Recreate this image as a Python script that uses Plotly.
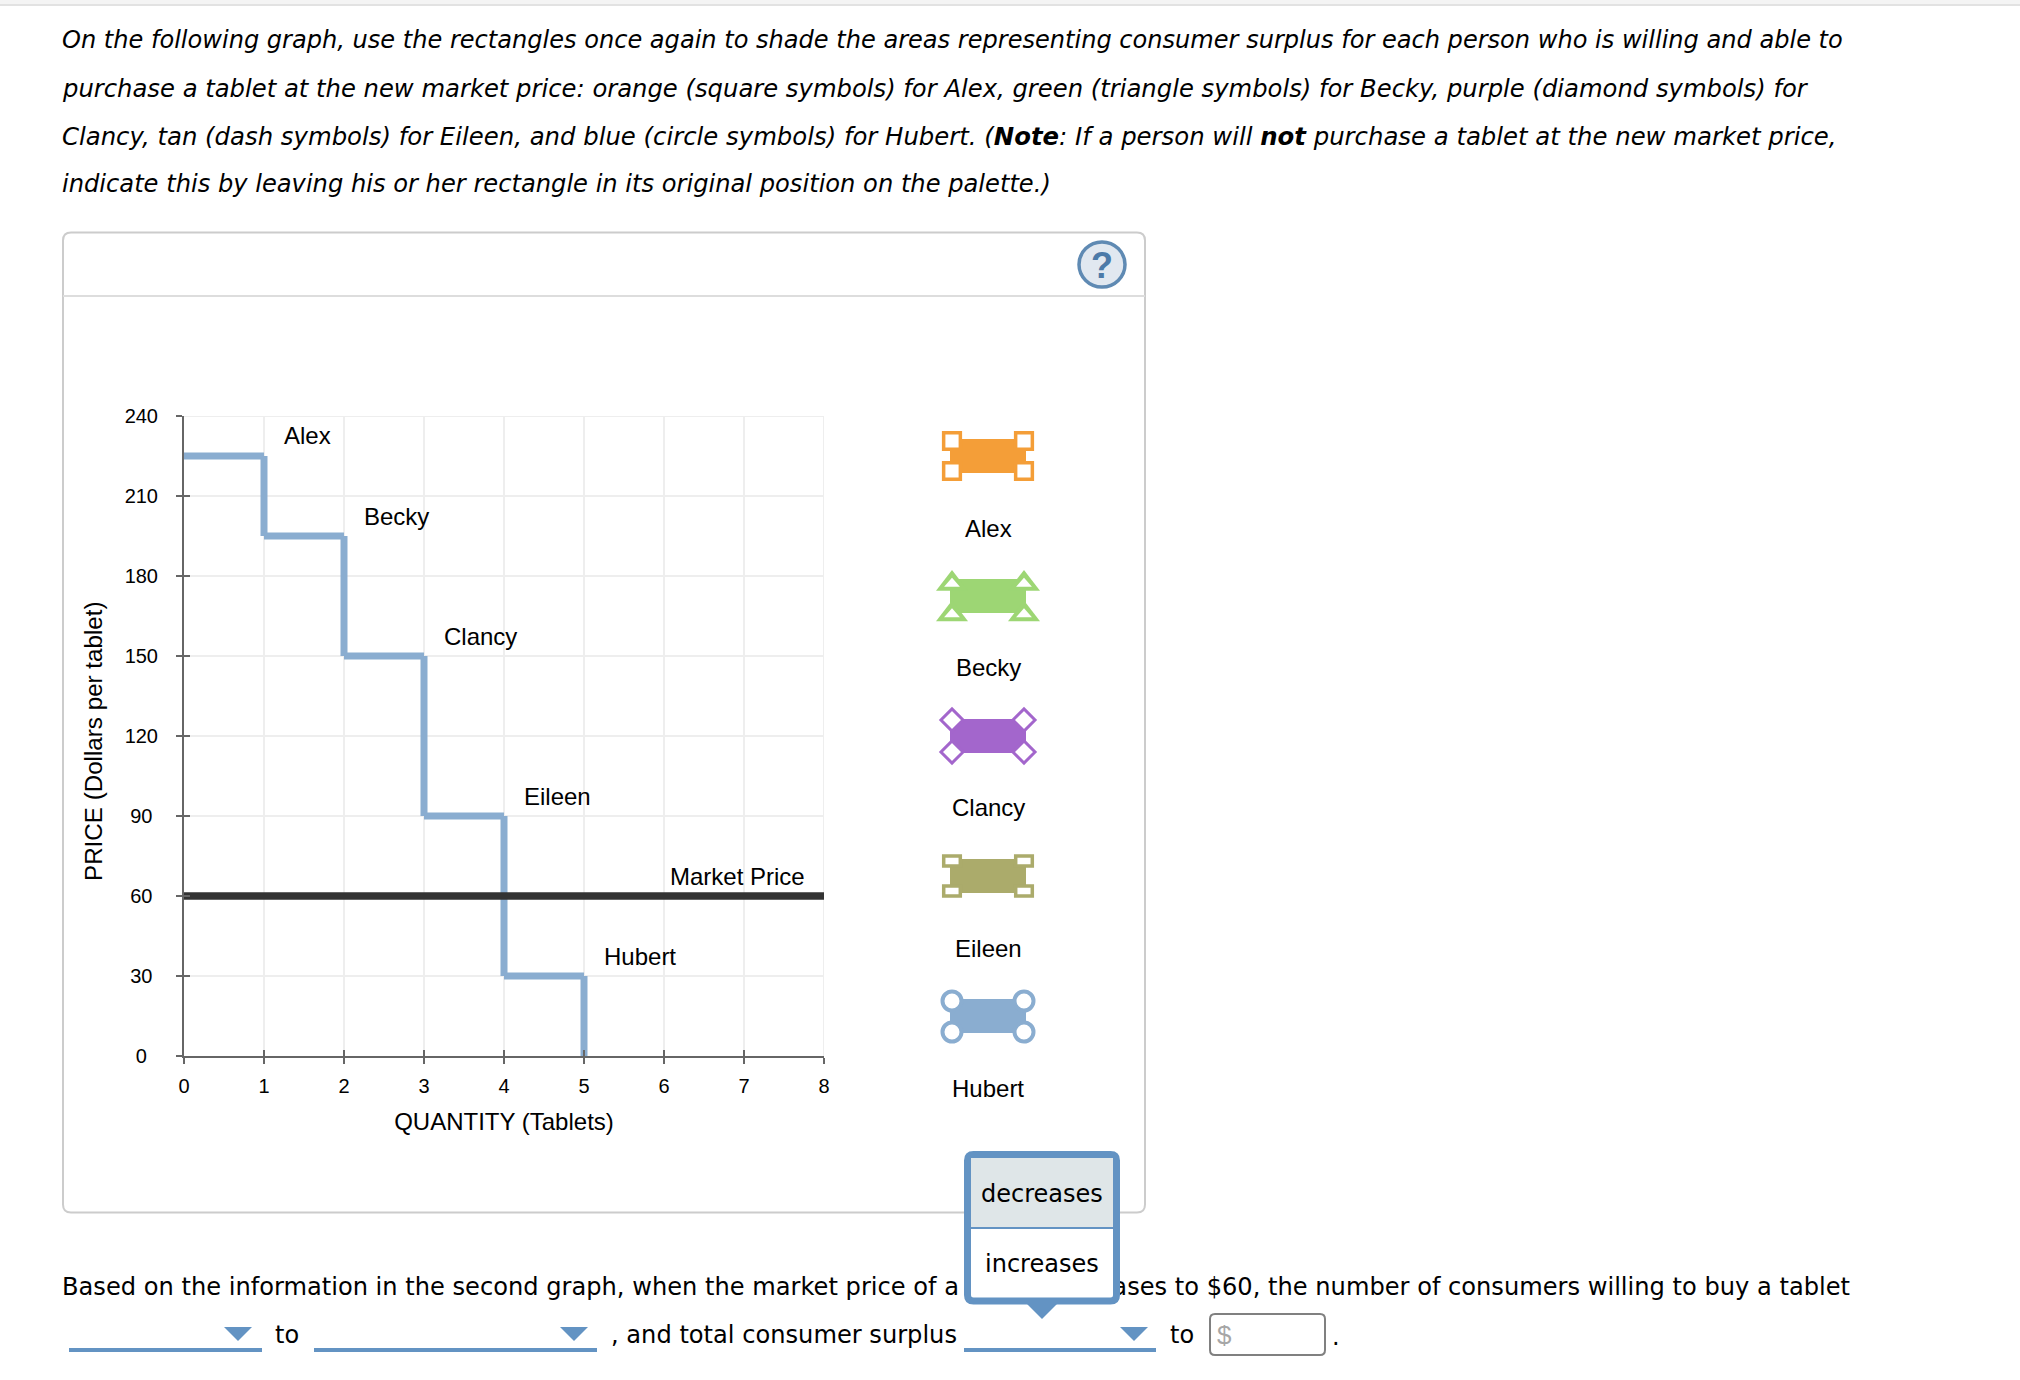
import plotly.graph_objects as go

NB = "\u00a0"
W, H = 2020, 1380
# ---- chart data
consumers = ["Alex", "Becky", "Clancy", "Eileen", "Hubert"]
quantities = [1, 2, 3, 4, 5]
prices = [225, 195, 150, 90, 30]
market_price = 60
x_ticks = [0, 1, 2, 3, 4, 5, 6, 7, 8]
y_ticks = [0, 30, 60, 90, 120, 150, 180, 210, 240]
x_title = "QUANTITY (Tablets)"
y_title = "PRICE (Dollars per tablet)"
# ---- page text
para_lines = [
    "On the following graph, use the rectangles once again to shade the areas representing consumer surplus for each person who is willing and able to",
    "purchase a tablet at the new market price: orange (square symbols) for Alex, green (triangle symbols) for Becky, purple (diamond symbols) for",
    "Clancy, tan (dash symbols) for Eileen, and blue (circle symbols) for Hubert. (<b>Note</b>: If a person will <b>not</b> purchase a tablet at the new market price,",
    "indicate this by leaving his or her rectangle in its original position on the palette.)",
]
para_sizes = [24.07, 24.27, 24.35, 24.16]
question_left = "Based on the information in the second graph, when the market price of a"
question_right = "ases to $60, the number of consumers willing to buy a tablet"
options = ["decreases", "increases"]

BLUE = "#8AADD0"
DD = "#6393C3"
palette_colors = ["#F49E38", "#9DD674", "#A366CC", "#ABAB6B", "#8AADD0"]
BODY = "DejaVu Sans"
SANS = "Liberation Sans"
BODY_SIZE = 24
CH = 24

fig = go.Figure()

# full-page pixel axes (first subplot) used for page furniture
PIX = dict(xref="x", yref="y")
PIXT = dict(xaxis="x", yaxis="y")

def rect(x0, y0, x1, y1, fill=None, line=None, lw=0, layer="below", radius=None):
    if radius:
        r = radius
        path = (f"M{x0+r},{y0} L{x1-r},{y0} Q{x1},{y0} {x1},{y0+r} L{x1},{y1-r} Q{x1},{y1} {x1-r},{y1} "
                f"L{x0+r},{y1} Q{x0},{y1} {x0},{y1-r} L{x0},{y0+r} Q{x0},{y0} {x0+r},{y0} Z")
        fig.add_shape(type="path", path=path, fillcolor=fill or "rgba(0,0,0,0)",
                      line=dict(color=line or "rgba(0,0,0,0)", width=lw), layer=layer, **PIX)
    else:
        fig.add_shape(type="rect", x0=x0, y0=y0, x1=x1, y1=y1, fillcolor=fill or "rgba(0,0,0,0)",
                      line=dict(color=line or "rgba(0,0,0,0)", width=lw), layer=layer, **PIX)

def txt(x, y, s, size=BODY_SIZE, fam=BODY, color="#000", anchor="left", style="normal"):
    fig.add_annotation(x=x, y=y, text=s, showarrow=False, xanchor=anchor, yanchor="middle",
                       font=dict(family=fam, size=size, color=color, style=style), align="left", **PIX)

def tri(cx, apex, base, half, col):
    fig.add_shape(type="path", path=f"M{cx-half},{base} L{cx+half},{base} L{cx},{apex} Z", fillcolor=col,
                  line=dict(width=0), layer="below", **PIX)

# invisible trace to keep the pixel subplot alive
fig.add_trace(go.Scatter(x=[0, W], y=[0, H], mode="markers", marker=dict(opacity=0), hoverinfo="skip", showlegend=False, **PIXT))

# top strip
rect(0, 0, W, 4, fill="#F4F4F4")
rect(0, 4, W, 6, fill="#E2E2E2")
# panel
rect(63, 232.5, 1145, 1212.5, line="#CCCCCC", lw=2, radius=8)
fig.add_shape(type="line", x0=63, x1=1145, y0=296, y1=296, line=dict(color="#DDDDDD", width=2), layer="below", **PIX)
# help icon
fig.add_shape(type="circle", x0=1079, x1=1125, y0=242, y1=287, fillcolor="#E1E8F0", line=dict(color="#5F8AB3", width=3.5), layer="below", **PIX)
txt(1102, 265, "<b>?</b>", size=36, fam=SANS, color="#4C7AA8", anchor="center")

# paragraph
for i, (line, size) in enumerate(zip(para_lines, para_sizes)):
    txt(60, 40.3 + 48 * i, line, size=size, style="italic")

# question line: text traces so the open dropdown can cover the clipped word
fig.add_trace(go.Scatter(x=[62], y=[1288.5], mode="text", text=[question_left], textposition="middle right",
                         textfont=dict(family=BODY, size=24.14, color="#000"), hoverinfo="skip", showlegend=False, **PIXT))
fig.add_trace(go.Scatter(x=[1850], y=[1288.5], mode="text", text=[question_right], textposition="middle left",
                         textfont=dict(family=BODY, size=24.14, color="#000"), hoverinfo="skip", showlegend=False, **PIXT))

# second line furniture
for (x0, x1, ax) in [(69, 262, 224), (314, 597, 560), (964, 1156, 1120)]:
    rect(x0, 1348, x1, 1352, fill=DD)
    fig.add_shape(type="path", path=f"M{ax},1327 L{ax+28},1327 L{ax+14},1341 Z", fillcolor=DD, line=dict(width=0), layer="below", **PIX)
txt(272.5, 1335, "to")
txt(608.5, 1335, ", and total consumer surplus", size=24.14)
txt(1167.5, 1335, "to")
rect(1210, 1314, 1325, 1355, line="#808080", lw=2, radius=5)
txt(1215, 1335, "$", size=26, fam=SANS, color="#A6A6A6")
txt(1330, 1337, ".")

# palette
hx = [952, 1024]
rect_tops = [439, 579, 719, 859, 999]
for col, top in zip(palette_colors, rect_tops):
    rect(950, top, 1026, top + 34, fill=col)
for name, ly in zip(consumers, [528, 667, 807, 948, 1088]):
    txt(988, ly, name, size=CH, fam=SANS, anchor="center")

def handles(ys, symbol, size, lw, col):
    fig.add_trace(go.Scatter(x=[hx[0], hx[1], hx[0], hx[1]], y=[ys[0], ys[0], ys[1], ys[1]], mode="markers",
                             marker=dict(symbol=symbol, size=size, color="#FFFFFF", line=dict(color=col, width=lw)),
                             hoverinfo="skip", showlegend=False, **PIXT))
handles([441, 471], "square", 16.7, 3.5, palette_colors[0])
handles([720, 752], "diamond", 17, 3, palette_colors[2])
handles([1001, 1032], "circle", 19, 4, palette_colors[4])
for cx in hx:
    for dy in [0, 30.5]:
        tri(cx, 570 + dy, 590.7 + dy, 16, palette_colors[1])
        tri(cx, 577.7 + dy, 586.7 + dy, 7.9, "#FFFFFF")
    for cy in [861, 891]:
        rect(cx - 8.3, cy - 5, cx + 8.3, cy + 5, fill="#FFFFFF", line=palette_colors[3], lw=3.5)

# y-axis title, centred where the reference has it (slightly below the axis middle)
fig.add_annotation(x=93, y=741, text=y_title, textangle=-90, showarrow=False, xanchor="center", yanchor="middle",
                   font=dict(family=SANS, size=24.2, color="#000"), **PIX)

# ---- the chart itself
main = dict(xaxis="x2", yaxis="y2")
# gridlines on the far edges (plotly clips those at the range ends)
fig.add_shape(type="line", xref="x2", yref="y2", x0=x_ticks[0], x1=x_ticks[-1], y0=y_ticks[-1], y1=y_ticks[-1], line=dict(color="#EEEEEE", width=2), layer="below")
fig.add_shape(type="line", xref="x2", yref="y2", x0=x_ticks[-1], x1=x_ticks[-1], y0=y_ticks[0], y1=y_ticks[-1], line=dict(color="#EEEEEE", width=2), layer="below")
sx, sy = [], []
prev_q = 0
for i, (q, p) in enumerate(zip(quantities, prices)):
    nxt = prices[i + 1] if i + 1 < len(prices) else 0
    sx += [prev_q, q, None, q, q, None]
    sy += [p, p, None, p, nxt, None]
    prev_q = q
fig.add_trace(go.Scatter(x=sx, y=sy, mode="lines", line=dict(color=BLUE, width=7), hoverinfo="skip", showlegend=False, **main))
fig.add_trace(go.Scatter(x=[x_ticks[0], x_ticks[-1]], y=[market_price, market_price], mode="lines",
                         line=dict(color="#333333", width=7.5), hoverinfo="skip", showlegend=False, **main))
for name, q, p in zip(consumers, quantities, prices):
    fig.add_annotation(x=q + 0.23, y=p + 7.5, xref="x2", yref="y2", text=name, showarrow=False, xanchor="left", yanchor="middle",
                       font=dict(family=SANS, size=CH, color="#000"))
fig.add_annotation(x=6.05, y=market_price + 7.5, xref="x2", yref="y2", text="Market Price", showarrow=False, xanchor="left", yanchor="middle",
                   font=dict(family=SANS, size=CH, color="#000"))

# popup dropdown (above everything but text)
rect(967.5, 1154.5, 1116.5, 1301, fill="#FFFFFF", line=DD, lw=7, layer="above", radius=6)
rect(971, 1158, 1113, 1227, fill="#DFE6E8", layer="above")
rect(971, 1227, 1113, 1229, fill=DD, layer="above")
fig.add_shape(type="path", path="M1027,1304 L1057,1304 L1042,1319 Z", fillcolor=DD, line=dict(width=0), layer="above", **PIX)
txt(1042, 1194, options[0], anchor="center")
txt(1042, 1263.5, options[1], anchor="center")

fig.update_layout(
    width=W, height=H, margin=dict(l=0, r=0, t=0, b=0, autoexpand=False), paper_bgcolor="#FFFFFF", plot_bgcolor="rgba(0,0,0,0)",
    showlegend=False,
    xaxis=dict(domain=[0, 1], range=[0, W], visible=False, fixedrange=True),
    yaxis=dict(domain=[0, 1], range=[H, 0], visible=False, fixedrange=True),
    xaxis2=dict(domain=[184 / W, 824 / W], range=[0, 8], anchor="y2", tickmode="array", tickvals=x_ticks, ticktext=[str(v) for v in x_ticks],
                ticks="outside", ticklen=6, tickwidth=2, tickcolor="#666666", showline=True, linecolor="#666666", linewidth=2,
                showgrid=True, gridcolor="#EEEEEE", gridwidth=2, zeroline=False, tickfont=dict(family=SANS, size=20, color="#000"),
                ticklabelstandoff=5, title=dict(text=x_title, font=dict(family=SANS, size=CH, color="#000"), standoff=17)),
    yaxis2=dict(domain=[1 - 1056 / H, 1 - 416 / H], range=[0, 240], anchor="x2", tickmode="array", tickvals=y_ticks,
                ticktext=[str(v) + NB * (3 - len(str(v))) for v in y_ticks],
                ticks="outside", ticklen=6, tickwidth=2, tickcolor="#666666", showline=True, linecolor="#666666", linewidth=2,
                showgrid=True, gridcolor="#EEEEEE", gridwidth=2, zeroline=False, tickfont=dict(family=SANS, size=20, color="#000"),
                ticklabelstandoff=14),
    # inward half of the crossing tick marks
    xaxis3=dict(domain=[184 / W, 824 / W], range=[0, 8], anchor="y2", overlaying="x2", tickmode="array", tickvals=x_ticks, ticks="inside", ticklen=6,
                tickwidth=2, tickcolor="#666666", showticklabels=False, showgrid=False, zeroline=False),
    yaxis3=dict(domain=[1 - 1056 / H, 1 - 416 / H], range=[0, 240], anchor="x2", overlaying="y2", tickmode="array", tickvals=y_ticks, ticks="inside", ticklen=6,
                tickwidth=2, tickcolor="#666666", showticklabels=False, showgrid=False, zeroline=False),
)
fig.add_trace(go.Scatter(x=[0], y=[0], mode="markers", marker=dict(opacity=0), hoverinfo="skip", showlegend=False, xaxis="x3", yaxis="y3"))

fig.write_html("out.html", config=dict(displayModeBar=False), post_script="document.body.style.margin='0';")
